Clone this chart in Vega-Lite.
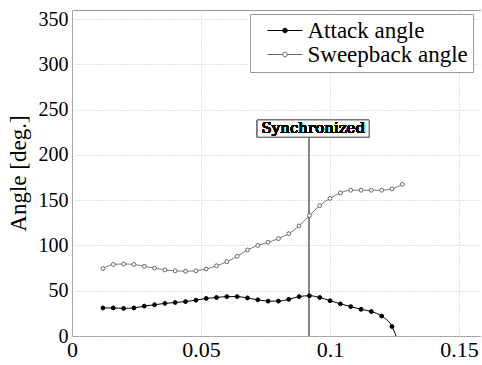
{
  "$schema": "https://vega.github.io/schema/vega-lite/v6.json",
  "width": 409,
  "height": 326,
  "autosize": {"type": "none"},
  "padding": {"left": 72, "top": 10, "right": 0, "bottom": 29},
  "background": "white",
  "config": {
    "font": "Liberation Serif",
    "view": {"stroke": "#999", "strokeWidth": 1},
    "axis": {
      "domain": false,
      "ticks": false,
      "grid": true,
      "gridColor": "#c4c4c4",
      "gridDash": [1, 2],
      "gridWidth": 1,
      "labelColor": "black",
      "labelFont": "Liberation Serif",
      "titleFont": "Liberation Serif",
      "titleColor": "black",
      "titleFontWeight": "normal"
    },
    "legend": {
      "title": null,
      "orient": "none",
      "legendX": 178,
      "legendY": 4,
      "padding": 5,
      "strokeColor": "#999",
      "fillColor": "white",
      "labelFont": "Liberation Serif",
      "labelFontSize": 23,
      "labelColor": "black",
      "labelOffset": 11,
      "labelLimit": 240,
      "rowPadding": 0,
      "symbolSize": 100,
      "symbolOffset": 18.5,
      "symbolStrokeWidth": 1
    }
  },
  "datasets": {
    "angles": [
      {"v": 0.012, "angle": 31, "series": "Attack angle", "measured": true},
      {"v": 0.016, "angle": 31, "series": "Attack angle", "measured": true},
      {"v": 0.020, "angle": 30.5, "series": "Attack angle", "measured": true},
      {"v": 0.024, "angle": 31, "series": "Attack angle", "measured": true},
      {"v": 0.028, "angle": 33, "series": "Attack angle", "measured": true},
      {"v": 0.032, "angle": 34.5, "series": "Attack angle", "measured": true},
      {"v": 0.036, "angle": 36, "series": "Attack angle", "measured": true},
      {"v": 0.040, "angle": 37, "series": "Attack angle", "measured": true},
      {"v": 0.044, "angle": 38, "series": "Attack angle", "measured": true},
      {"v": 0.048, "angle": 39.5, "series": "Attack angle", "measured": true},
      {"v": 0.052, "angle": 41.5, "series": "Attack angle", "measured": true},
      {"v": 0.056, "angle": 42.5, "series": "Attack angle", "measured": true},
      {"v": 0.060, "angle": 43.5, "series": "Attack angle", "measured": true},
      {"v": 0.064, "angle": 43.5, "series": "Attack angle", "measured": true},
      {"v": 0.068, "angle": 42, "series": "Attack angle", "measured": true},
      {"v": 0.072, "angle": 40, "series": "Attack angle", "measured": true},
      {"v": 0.076, "angle": 38.5, "series": "Attack angle", "measured": true},
      {"v": 0.080, "angle": 38.5, "series": "Attack angle", "measured": true},
      {"v": 0.084, "angle": 40.5, "series": "Attack angle", "measured": true},
      {"v": 0.088, "angle": 43.5, "series": "Attack angle", "measured": true},
      {"v": 0.092, "angle": 44.5, "series": "Attack angle", "measured": true},
      {"v": 0.096, "angle": 42.5, "series": "Attack angle", "measured": true},
      {"v": 0.100, "angle": 39, "series": "Attack angle", "measured": true},
      {"v": 0.104, "angle": 35.5, "series": "Attack angle", "measured": true},
      {"v": 0.108, "angle": 32.5, "series": "Attack angle", "measured": true},
      {"v": 0.112, "angle": 29.5, "series": "Attack angle", "measured": true},
      {"v": 0.116, "angle": 27, "series": "Attack angle", "measured": true},
      {"v": 0.120, "angle": 22, "series": "Attack angle", "measured": true},
      {"v": 0.124, "angle": 10.5, "series": "Attack angle", "measured": true},
      {"v": 0.1256, "angle": 0, "series": "Attack angle", "measured": false},
      {"v": 0.012, "angle": 74.5, "series": "Sweepback angle", "measured": true},
      {"v": 0.016, "angle": 79, "series": "Sweepback angle", "measured": true},
      {"v": 0.020, "angle": 79.5, "series": "Sweepback angle", "measured": true},
      {"v": 0.024, "angle": 79, "series": "Sweepback angle", "measured": true},
      {"v": 0.028, "angle": 77, "series": "Sweepback angle", "measured": true},
      {"v": 0.032, "angle": 75, "series": "Sweepback angle", "measured": true},
      {"v": 0.036, "angle": 73, "series": "Sweepback angle", "measured": true},
      {"v": 0.040, "angle": 72, "series": "Sweepback angle", "measured": true},
      {"v": 0.044, "angle": 71.5, "series": "Sweepback angle", "measured": true},
      {"v": 0.048, "angle": 72, "series": "Sweepback angle", "measured": true},
      {"v": 0.052, "angle": 74, "series": "Sweepback angle", "measured": true},
      {"v": 0.056, "angle": 77.5, "series": "Sweepback angle", "measured": true},
      {"v": 0.060, "angle": 82, "series": "Sweepback angle", "measured": true},
      {"v": 0.064, "angle": 88, "series": "Sweepback angle", "measured": true},
      {"v": 0.068, "angle": 95, "series": "Sweepback angle", "measured": true},
      {"v": 0.072, "angle": 100, "series": "Sweepback angle", "measured": true},
      {"v": 0.076, "angle": 103.5, "series": "Sweepback angle", "measured": true},
      {"v": 0.080, "angle": 107.5, "series": "Sweepback angle", "measured": true},
      {"v": 0.084, "angle": 113, "series": "Sweepback angle", "measured": true},
      {"v": 0.088, "angle": 121.5, "series": "Sweepback angle", "measured": true},
      {"v": 0.092, "angle": 133, "series": "Sweepback angle", "measured": true},
      {"v": 0.096, "angle": 144, "series": "Sweepback angle", "measured": true},
      {"v": 0.100, "angle": 152, "series": "Sweepback angle", "measured": true},
      {"v": 0.104, "angle": 158, "series": "Sweepback angle", "measured": true},
      {"v": 0.108, "angle": 161, "series": "Sweepback angle", "measured": true},
      {"v": 0.112, "angle": 161, "series": "Sweepback angle", "measured": true},
      {"v": 0.116, "angle": 161, "series": "Sweepback angle", "measured": true},
      {"v": 0.120, "angle": 161, "series": "Sweepback angle", "measured": true},
      {"v": 0.124, "angle": 162.5, "series": "Sweepback angle", "measured": true},
      {"v": 0.128, "angle": 167.5, "series": "Sweepback angle", "measured": true}
    ]
  },
  "data": {"name": "angles"},
  "encoding": {
    "x": {
      "field": "v",
      "type": "quantitative",
      "scale": {"domain": [0, 0.1585], "nice": false, "zero": false},
      "axis": {
        "title": null,
        "values": [0, 0.05, 0.1, 0.15],
        "format": "~g",
        "labelFontSize": 22,
        "labelPadding": 3,
        "labelFlush": false
      }
    },
    "y": {
      "field": "angle",
      "type": "quantitative",
      "scale": {"domain": [0, 360], "nice": false},
      "axis": {
        "title": "Angle [deg.]",
        "titleFontSize": 23,
        "titlePadding": 8,
        "values": [0, 50, 100, 150, 200, 250, 300, 350],
        "labelFontSize": 20,
        "labelPadding": 4,
        "labelFlush": false
      }
    }
  },
  "layer": [
    {
      "mark": {"type": "rule", "color": "#888", "strokeWidth": 1},
      "encoding": {
        "x": {"datum": 0.092, "type": "quantitative"},
        "y": {"datum": 0, "type": "quantitative"},
        "y2": {"datum": 219.7}
      }
    },
    {
      "transform": [{"filter": "datum.series === 'Attack angle'"}],
      "mark": {"type": "line", "color": "black", "strokeWidth": 1, "interpolate": "monotone"}
    },
    {
      "transform": [{"filter": "datum.series === 'Sweepback angle'"}],
      "mark": {"type": "line", "color": "#777", "strokeWidth": 1, "interpolate": "monotone"}
    },
    {
      "transform": [{"filter": "datum.measured"}],
      "mark": {"type": "point", "shape": "circle", "size": 15, "strokeWidth": 1, "opacity": 1},
      "encoding": {
        "fill": {
          "field": "series",
          "type": "nominal",
          "scale": {"domain": ["Attack angle", "Sweepback angle"], "range": ["black", "white"]},
          "legend": {
            "symbolType": "M-3.5,0H-0.46M0.46,0H3.5M0.46,0A0.46,0.46,0,1,1,-0.46,0A0.46,0.46,0,1,1,0.46,0Z"
          }
        },
        "stroke": {
          "field": "series",
          "type": "nominal",
          "scale": {"domain": ["Attack angle", "Sweepback angle"], "range": ["black", "#666"]},
          "legend": {
            "symbolType": "M-3.5,0H-0.46M0.46,0H3.5M0.46,0A0.46,0.46,0,1,1,-0.46,0A0.46,0.46,0,1,1,0.46,0Z"
          }
        }
      }
    },
    {
      "mark": {"type": "rect", "fill": "white", "stroke": "#777", "strokeWidth": 1},
      "encoding": {
        "x": {"datum": 0.0718, "type": "quantitative"},
        "x2": {"datum": 0.1151},
        "y": {"datum": 219.7, "type": "quantitative"},
        "y2": {"datum": 238.5}
      }
    },
    {
      "mark": {"type": "text", "font": "DejaVu Serif", "fontSize": 15, "color": "black", "align": "center", "baseline": "middle"},
      "encoding": {
        "x": {"datum": 0.0935, "type": "quantitative"},
        "y": {"datum": 229.3, "type": "quantitative"},
        "text": {"value": "Synchronized"}
      }
    }
  ]
}
